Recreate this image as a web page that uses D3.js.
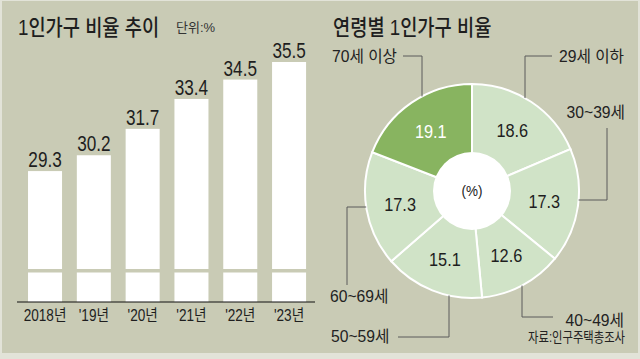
<!DOCTYPE html>
<html><head><meta charset="utf-8">
<script src="https://cdn.jsdelivr.net/npm/d3@7"></script>
<style>body{margin:0;background:#e2e3d8}svg{display:block}</style>
</head><body><svg id="c" width="640" height="359"></svg>
<script>
// ---- data ----
const years = ["2018년", "'19년", "'20년", "'21년", "'22년", "'23년"];
const ratios = [29.3, 30.2, 31.7, 33.4, 34.5, 35.5];
const ageGroups = ["29세 이하", "30~39세", "40~49세", "50~59세", "60~69세", "70세 이상"];
const ageShares = [18.6, 17.3, 12.6, 15.1, 17.3, 19.1];

// ---- style ----
const BG = "#c9cbb5", LIGHT = "#d0e3c7", DARK = "#88b460", INK = "#1e1e1e", LINE = "#5a5a5a";
const FONT = "'Liberation Sans','Noto Sans CJK KR',sans-serif";
const svg = d3.select("#c");
svg.append("rect").attr("x", 2).attr("y", 1).attr("width", 636).attr("height", 352).attr("fill", BG);

function txt(g, x, y, s, o = {}) {
  return g.append("text")
    .attr("transform", `translate(${x},${y}) scale(${o.sx || 1},1)`)
    .attr("text-anchor", o.anchor || "start")
    .attr("font-family", FONT)
    .attr("font-size", o.size || 16)
    .attr("font-weight", o.weight || "normal")
    .attr("fill", o.fill || INK)
    .text(s);
}

// ---- left: bar chart ----
const L = svg.append("g");
txt(L, 18, 35, "1인가구 비율 추이", { size: 22, sx: 0.85, weight: 500 });
txt(L, 176, 32, "단위:%", { size: 13, sx: 1.0, fill: "#333" });

const x = d3.scaleBand().domain(years).range([20.7, 313.4]).paddingInner(0.303).paddingOuter(0.15);
const y = d3.scaleLinear().domain([21.86, 35.5]).range([302, 62]);

L.selectAll("rect.bar").data(ratios).join("rect").attr("class", "bar")
  .attr("x", (d, i) => x(years[i])).attr("width", x.bandwidth())
  .attr("y", d => y(d)).attr("height", d => y.range()[0] - y(d))
  .attr("fill", "#fff");
// axis break band
L.append("rect").attr("x", 17).attr("width", 298).attr("y", 269).attr("height", 3.5).attr("fill", BG);
// baseline
L.append("line").attr("x1", 17).attr("x2", 315).attr("y1", 302).attr("y2", 302).attr("stroke", "#111").attr("stroke-width", 1.2);

ratios.forEach((d, i) => {
  txt(L, x(years[i]) + x.bandwidth() / 2, y(d) - 4, d.toFixed(1), { size: 22, sx: 0.78, anchor: "middle" });
  txt(L, x(years[i]) + x.bandwidth() / 2, 321, years[i], { size: 16, sx: 0.85, anchor: "middle" });
});

// ---- right: donut ----
const R = svg.append("g");
txt(R, 333, 35, "연령별 1인가구 비율", { size: 22, sx: 0.85, weight: 500 });

const cx = 472, cy = 191, rOut = 107, rIn = 39;
const pie = d3.pie().sort(null).value(d => d);
const arcs = pie(ageShares);
const arc = d3.arc().innerRadius(0).outerRadius(rOut);
const labelArc = d3.arc().innerRadius(rIn).outerRadius(rOut);
const D = R.append("g").attr("transform", `translate(${cx},${cy})`);
D.selectAll("path").data(arcs).join("path")
  .attr("d", arc)
  .attr("fill", (d, i) => i === ageShares.length - 1 ? DARK : LIGHT)
  .attr("stroke", "#fff").attr("stroke-width", 2);
D.append("circle").attr("r", rIn).attr("fill", "#fff");
txt(D, 0, 5, "(%)", { size: 15, anchor: "middle", sx: 0.9, fill: "#222" });
arcs.forEach((a, i) => {
  const [px, py] = labelArc.centroid(a);
  txt(D, px, py + 7, ageShares[i].toFixed(1), {
    size: 19, sx: 0.86, anchor: "middle",
    fill: i === ageShares.length - 1 ? "#fff" : INK
  });
});

// ---- leaders ----
const edgeY = (px, sign) => cy + sign * Math.sqrt(rOut * rOut - (px - cx) ** 2);
const edgeX = (py, sign) => cx + sign * Math.sqrt(rOut * rOut - (py - cy) ** 2);
const leaders = [
  { i: 0, pts: [[525, edgeY(525, -1)], [525, 56], [552, 56]], lab: [624, 62, "end"] },
  { i: 1, pts: [[edgeX(200, 1), 200], [607, 200], [607, 128]], lab: [625, 118, "end"] },
  { i: 2, pts: [[522, edgeY(522, 1)], [522, 317], [553, 317]], lab: [624, 326, "end"] },
  { i: 3, pts: [[449, edgeY(449, 1)], [449, 337], [398, 337]], lab: [331, 342, "start"] },
  { i: 4, pts: [[edgeX(207, -1), 207], [347, 207], [347, 285]], lab: [330, 302, "start"] },
  { i: 5, pts: [[422, edgeY(422, -1)], [422, 56], [403, 56]], lab: [332, 62, "start"] }
];
leaders.forEach(l => {
  R.append("path").attr("d", d3.line()(l.pts)).attr("fill", "none").attr("stroke", LINE).attr("stroke-width", 1);
  txt(R, l.lab[0], l.lab[1], ageGroups[l.i], { size: 16, sx: 0.98, anchor: l.lab[2], fill: "#222" });
});
txt(R, 625, 342, "자료:인구주택총조사", { size: 14, sx: 0.81, anchor: "end", fill: "#222" });
</script></body></html>
